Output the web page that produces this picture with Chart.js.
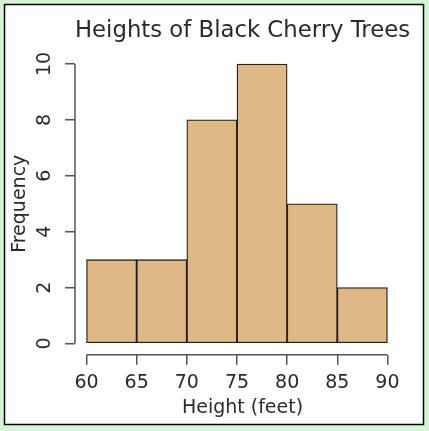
<!DOCTYPE html>
<html>
<head>
<meta charset="utf-8">
<script src="https://cdn.jsdelivr.net/npm/chart.js@4/dist/chart.umd.min.js"></script>
<style>
  html, body { margin: 0; padding: 0; background: #d4f4d4; overflow: hidden; }
  canvas { display: block; }
</style>
</head>
<body>
<canvas id="c" width="429" height="431"></canvas>
<script>
const categories = ['60-65', '65-70', '70-75', '75-80', '80-85', '85-90'];
const binMids = [62.5, 67.5, 72.5, 77.5, 82.5, 87.5];
const frequencies = [3, 3, 8, 10, 5, 2];
const xTicks = [60, 65, 70, 75, 80, 85, 90];
const yTicks = [0, 2, 4, 6, 8, 10];

const FONT = "'DejaVu Sans', sans-serif";
const TEXT = '#2a2a2a';
const AXIS = '#555';

const framePlugin = {
  id: 'frame',
  beforeDraw(chart) {
    const ctx = chart.ctx;
    ctx.save();
    ctx.fillStyle = '#d4f4d4';
    ctx.fillRect(0, 0, chart.width, chart.height);
    ctx.fillStyle = '#ffffff';
    ctx.fillRect(4.5, 4.5, 419, 420);
    ctx.strokeStyle = '#000';
    ctx.lineWidth = 1.5;
    ctx.strokeRect(4.5, 4.5, 419, 420);
    ctx.restore();
  }
};

const axisLinePlugin = {
  id: 'axisLines',
  afterDatasetsDraw(chart) {
    const ctx = chart.ctx;
    const xs = chart.scales.x, ys = chart.scales.y;
    const ca = chart.chartArea;
    ctx.save();
    ctx.strokeStyle = AXIS;
    ctx.lineWidth = 1.5;
    ctx.beginPath();
    ctx.moveTo(ca.left, ys.getPixelForValue(yTicks[0]));
    ctx.lineTo(ca.left, ys.getPixelForValue(yTicks[yTicks.length - 1]));
    ctx.moveTo(xs.getPixelForValue(xTicks[0]), ca.bottom);
    ctx.lineTo(xs.getPixelForValue(xTicks[xTicks.length - 1]), ca.bottom);
    ctx.stroke();
    ctx.restore();
  }
};

new Chart(document.getElementById('c'), {
  type: 'bar',
  data: {
    labels: categories,
    datasets: [{
      label: 'Frequency',
      data: binMids.map((m, i) => ({ x: m, y: frequencies[i] })),
      backgroundColor: '#deb887',
      borderColor: '#2a1f14',
      borderWidth: 1.3,
      borderSkipped: false,
      barPercentage: 1,
      categoryPercentage: 1,
      grouped: false
    }]
  },
  options: {
    responsive: false,
    animation: false,
    devicePixelRatio: 1,
    layout: { padding: { left: 0, right: 19, top: 0, bottom: 0 } },
    plugins: {
      legend: { display: false },
      tooltip: { enabled: false },
      title: {
        display: true,
        text: 'Heights of Black Cherry Trees',
        fullSize: false,
        color: TEXT,
        font: { family: FONT, size: 23, weight: 'normal', lineHeight: 1.2 },
        padding: { top: 17.7, bottom: 7.5 }
      }
    },
    scales: {
      x: {
        type: 'linear',
        min: 58.85,
        max: 92.25,
        offset: false,
        afterBuildTicks(s) { s.ticks = xTicks.map(v => ({ value: v })); },
        afterFit(s) { s.height = 76.3; },
        grid: { display: true, offset: false, drawOnChartArea: false, drawTicks: true, tickLength: 10, color: AXIS, lineWidth: 1.5 },
        border: { display: false },
        ticks: {
          color: TEXT,
          font: { family: FONT, size: 19 },
          padding: 7.3,
          maxRotation: 0,
          minRotation: 0,
          autoSkip: false
        },
        title: {
          display: true,
          text: 'Height (feet)',
          color: TEXT,
          font: { family: FONT, size: 19, lineHeight: 1.2 },
          padding: { top: 0, bottom: 11.2 }
        }
      },
      y: {
        type: 'linear',
        min: -0.4,
        max: 10.4,
        afterBuildTicks(s) { s.ticks = yTicks.map(v => ({ value: v })); },
        afterFit(s) { s.width = 75; },
        grid: { display: true, drawOnChartArea: false, drawTicks: true, tickLength: 10, color: AXIS, lineWidth: 1.5 },
        border: { display: false },
        ticks: {
          color: TEXT,
          font: { family: FONT, size: 19 },
          padding: 7.4,
          minRotation: 90,
          maxRotation: 90,
          crossAlign: 'center',
          autoSkip: false
        },
        title: {
          display: true,
          text: 'Frequency',
          color: TEXT,
          font: { family: FONT, size: 19, lineHeight: 1.2 },
          padding: { top: 8.6, bottom: 0 }
        }
      }
    }
  },
  plugins: [framePlugin, axisLinePlugin]
});
</script>
</body>
</html>
